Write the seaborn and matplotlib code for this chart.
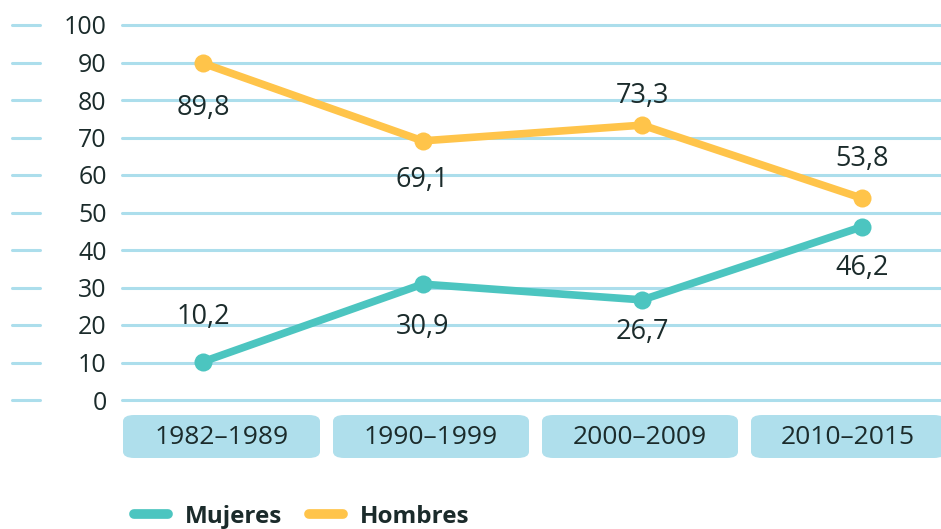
import matplotlib
matplotlib.use("Agg")
import matplotlib.pyplot as plt
from matplotlib.patches import FancyBboxPatch
from matplotlib.lines import Line2D
from matplotlib.transforms import blended_transform_factory
import seaborn as sns
import pandas as pd

periodos = ["1982-1989", "1990-1999", "2000-2009", "2010-2015"]
mujeres = [10.2, 30.9, 26.7, 46.2]
hombres = [89.8, 69.1, 73.3, 53.8]
yticks = [0, 10, 20, 30, 40, 50, 60, 70, 80, 90, 100]

df = pd.DataFrame({
    "periodo": periodos * 2,
    "valor": mujeres + hombres,
    "sexo": ["Mujeres"] * 4 + ["Hombres"] * 4,
})

TEAL = "#4cc5c0"
YELLOW = "#ffc44a"
GRID = "#acdeec"
BOX = "#afdfec"
TXT = "#1b2b2b"

sns.set_style("white")
plt.rcParams["font.family"] = ["Open Sans", "DejaVu Sans"]

W, H = 941, 529
fig = plt.figure(figsize=(W / 100, H / 100), dpi=100)
ax = fig.add_axes([122 / W, 1 - 400 / H, 1 - 122 / W, (400 - 25) / H])

sns.lineplot(data=df, x="periodo", y="valor", hue="sexo",
             palette={"Mujeres": TEAL, "Hombres": YELLOW},
             marker="o", markersize=13, markeredgewidth=0, linewidth=5.5,
             ax=ax, legend=False, zorder=3)

ax.set_ylim(0, 100)
unit = (862 - 203) / 3
ax.set_xlim(-(203 - 122) / unit, (941 - 203) / unit)
ax.set_xlabel("")
ax.set_ylabel("")
ax.set_xticks([])
ax.set_yticks(yticks)
ax.set_yticklabels([str(t) for t in yticks], fontsize=18, color=TXT)
ax.tick_params(axis="y", length=0, pad=11)
for s in ax.spines.values():
    s.set_visible(False)

for t in yticks:
    ax.axhline(t, color=GRID, lw=2.2, zorder=1, clip_on=False)
trans = blended_transform_factory(fig.transFigure, ax.transData)
for t in yticks:
    ax.plot([12 / W, 40 / W], [t, t], color=GRID, lw=2.2, transform=trans, clip_on=False)

def fmt(v):
    return f"{v:.1f}".replace(".", ",")

# label offsets (points): positive above, negative below
off_h = [-32, -28, 21, 28]
off_m = [32, -31, -23, -30]
for i, v in enumerate(hombres):
    ax.annotate(fmt(v), (i, v), xytext=(0, off_h[i]), textcoords="offset points",
                ha="center", va="center", fontsize=19.5, color=TXT)
for i, v in enumerate(mujeres):
    ax.annotate(fmt(v), (i, v), xytext=(0, off_m[i]), textcoords="offset points",
                ha="center", va="center", fontsize=19.5, color=TXT)

boxes = [(123, 320), (333, 529), (542, 738), (751, 945)]
for (x0, x1), lab in zip(boxes, periodos):
    p = FancyBboxPatch((x0 / W, 1 - 458 / H), (x1 - x0) / W, 43 / H,
                       boxstyle="round,pad=0,rounding_size=0.012",
                       transform=fig.transFigure, facecolor=BOX, edgecolor="none")
    fig.patches.append(p)
    fig.text((x0 + x1) / 2 / W, 1 - 437 / H, lab.replace("-", "–"), ha="center", va="center",
             fontsize=19, color=TXT)

handles = [Line2D([], [], color=TEAL, lw=7, solid_capstyle="round"),
           Line2D([], [], color=YELLOW, lw=7, solid_capstyle="round")]
leg = fig.legend(handles, ["Mujeres", "Hombres"], loc="center left",
                 bbox_to_anchor=(112 / W, 1 - 517 / H), ncol=2, frameon=False,
                 handlelength=1.4, handletextpad=0.7, columnspacing=1.1,
                 prop={"weight": "bold", "size": 17.5})
for t in leg.get_texts():
    t.set_color(TXT)

fig.savefig("out.png", dpi=100)
